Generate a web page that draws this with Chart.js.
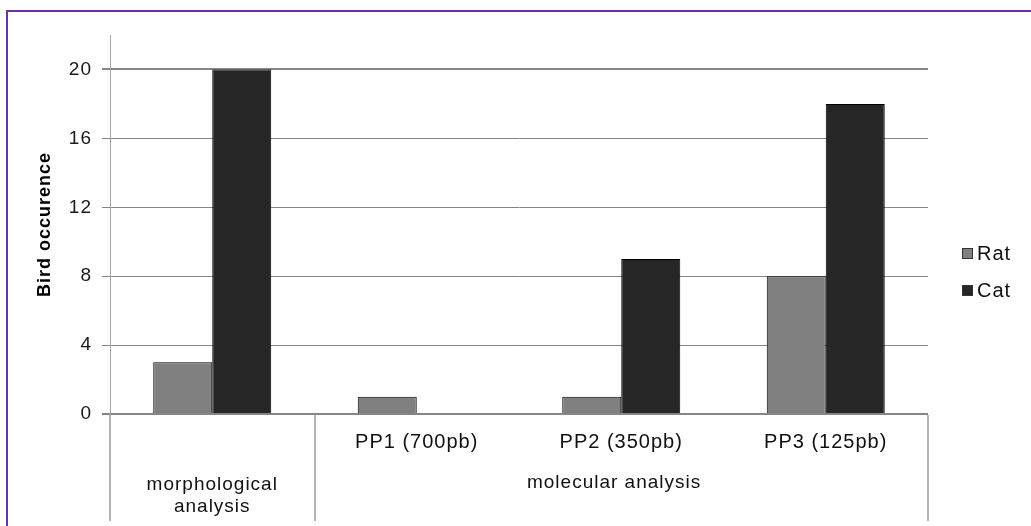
<!DOCTYPE html>
<html>
<head>
<meta charset="utf-8">
<title>Bird occurence</title>
<script src="https://cdn.jsdelivr.net/npm/chart.js@4.4.1/dist/chart.umd.min.js"></script>
<style>
  html, body { margin: 0; padding: 0; background: #ffffff; }
  #wrap { position: relative; width: 1031px; height: 526px; }
  canvas { display: block; }
</style>
</head>
<body>
<div id="wrap"><canvas id="chart" width="1031" height="526"></canvas></div>
<script>
// Detection data per analysis method
const categories = ['morphological analysis', 'PP1 (700pb)', 'PP2 (350pb)', 'PP3 (125pb)'];
const subLabels = ['', 'PP1 (700pb)', 'PP2 (350pb)', 'PP3 (125pb)'];
const ratValues = [3, 1, 1, 8];
const catValues = [20, 0, 9, 18];
const yTickValues = [0, 4, 8, 12, 16, 20];
const yMax = 22;
// Group captions on the category axis: lines of text and the category position they sit under
const groupLabels = [
  { lines: ['morphological', 'analysis'], at: 0, y: 485 },
  { lines: ['molecular analysis'], at: 1.965, y: 483 }
];
// Category positions where a vertical separator is drawn below the axis (edges between groups)
const groupEdges = [-0.5, 0.5, 3.5];

const FONT = "'Liberation Sans', Arial, Helvetica, sans-serif";
Chart.defaults.font.family = FONT;

const framePlugin = {
  id: 'frame',
  beforeDraw(chart) {
    const ctx = chart.ctx;
    ctx.save();
    ctx.fillStyle = '#ffffff';
    ctx.fillRect(0, 0, chart.width, chart.height);
    ctx.strokeStyle = '#7030a0';
    ctx.lineWidth = 2;
    ctx.beginPath();
    ctx.moveTo(6, 11);
    ctx.lineTo(chart.width, 11);
    ctx.moveTo(7, 10);
    ctx.lineTo(7, chart.height);
    ctx.stroke();
    ctx.restore();
    // slightly open spacing for all axis text
    if ('letterSpacing' in ctx) ctx.letterSpacing = '1px';
  }
};

const categoryAxisPlugin = {
  id: 'categoryAxis',
  afterDraw(chart) {
    const ctx = chart.ctx;
    const x = chart.scales.x;
    const base = chart.chartArea.bottom;
    ctx.save();
    // separators between groups
    ctx.strokeStyle = '#b4b4b4';
    ctx.lineWidth = 2;
    groupEdges.forEach(e => {
      const px = Math.round(x.getPixelForValue(e));
      ctx.beginPath();
      ctx.moveTo(px, base + 1);
      ctx.lineTo(px, 521);
      ctx.stroke();
    });
    // sub-category labels
    ctx.fillStyle = '#111111';
    ctx.textAlign = 'center';
    ctx.textBaseline = 'middle';
    ctx.font = '20px ' + FONT;
    subLabels.forEach((t, i) => {
      if (t) ctx.fillText(t, x.getPixelForValue(i), 442);
    });
    // group labels
    ctx.font = '19px ' + FONT;
    groupLabels.forEach(g => {
      const px = x.getPixelForValue(g.at);
      g.lines.forEach((line, k) => {
        ctx.fillText(line, px, g.y + k * 22);
      });
    });
    ctx.restore();
  }
};

const legendPlugin = {
  id: 'sideLegend',
  afterDraw(chart) {
    const ctx = chart.ctx;
    ctx.save();
    ctx.font = '20px ' + FONT;
    ctx.textBaseline = 'middle';
    ctx.textAlign = 'left';
    chart.data.datasets.forEach((ds, i) => {
      const cy = 254 + i * 37;
      ctx.fillStyle = ds.backgroundColor;
      ctx.fillRect(962, cy - 6, 11, 11);
      ctx.strokeStyle = '#333333';
      ctx.lineWidth = 1;
      ctx.strokeRect(962.5, cy - 5.5, 10, 10);
      ctx.fillStyle = '#111111';
      ctx.fillText(ds.label, 977, cy);
    });
    ctx.restore();
  }
};

new Chart(document.getElementById('chart'), {
  type: 'bar',
  data: {
    labels: categories,
    datasets: [
      {
        label: 'Rat',
        data: ratValues,
        backgroundColor: '#808080',
        borderColor: '#000000',
        borderWidth: 1,
        categoryPercentage: 0.577,
        barPercentage: 1.0
      },
      {
        label: 'Cat',
        data: catValues,
        backgroundColor: '#262626',
        borderColor: '#000000',
        borderWidth: 1,
        categoryPercentage: 0.577,
        barPercentage: 1.0
      }
    ]
  },
  options: {
    responsive: false,
    animation: false,
    devicePixelRatio: 1,
    layout: { padding: { top: 35, right: 103, left: 0, bottom: 0 } },
    plugins: {
      legend: { display: false },
      tooltip: { enabled: false }
    },
    scales: {
      x: {
        type: 'category',
        offset: true,
        grid: { display: false, drawTicks: false },
        border: { display: false },
        ticks: { display: false },
        afterFit(scale) { scale.height = 112; }
      },
      y: {
        min: 0,
        max: yMax,
        afterBuildTicks(scale) {
          scale.ticks = yTickValues.map(v => ({ value: v }));
        },
        afterFit(scale) { scale.width = 110; },
        grid: {
          color: '#868686',
          lineWidth: ctx => (ctx.tick && (ctx.tick.value === 0 || ctx.tick.value === 20)) ? 2 : 1,
          tickLength: 8,
          tickColor: '#868686'
        },
        border: { display: true, color: '#a6a6a6', width: 1 },
        ticks: {
          color: '#1a1a1a',
          font: { size: 19 },
          padding: 10
        },
        title: {
          display: true,
          text: 'Bird occurence',
          color: '#000000',
          font: { size: 18, weight: 'bold' },
          padding: { top: 34, bottom: 0 }
        }
      }
    }
  },
  plugins: [framePlugin, categoryAxisPlugin, legendPlugin]
});
</script>
</body>
</html>
